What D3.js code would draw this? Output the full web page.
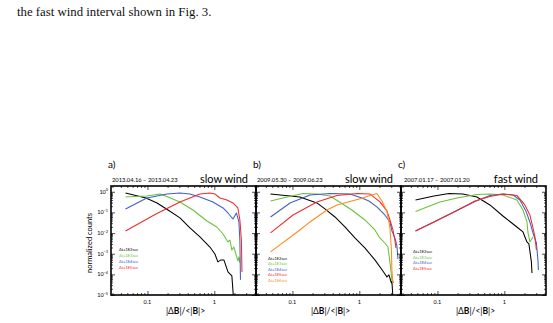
<!DOCTYPE html>
<html>
<head>
<meta charset="utf-8">
<script src="https://cdn.jsdelivr.net/npm/d3@7"></script>
<style>
  body { margin: 0; background: #fff; }
  svg { display: block; }
</style>
</head>
<body>
<svg id="chart" width="553" height="323"></svg>
<script>
// -------------------------------
// Increment distributions, three wind intervals
// -------------------------------

const panelLabels = ["a)", "b)", "c)"];
const dateRanges = ["2013.04.16 \u2013 2013.04.23", "2009.05.30 \u2013 2009.06.23", "2007.01.17 \u2013 2007.01.20"];
const windTypes = ["slow wind", "slow wind", "fast wind"];
const lagLabels = ["\u0394t=1E2sec", "\u0394t=1E3sec", "\u0394t=1E4sec", "\u0394t=1E5sec", "\u0394t=1E6sec"];
const lagColors = ["#000000", "#6cbf3c", "#3d5fc6", "#f02a2a", "#ff8a1e"];
const xTickValues = [0.1, 1];
const xTickLabels = ["0.1", "1"];
const yTickExponents = [0, -1, -2, -3, -4, -5];

// panel a: [|dB|/<|B|>, normalized counts]
const aLag1 = [[0.047,0.875],[0.095,0.50],[0.139,0.287],[0.203,0.131],[0.306,0.054],[0.432,0.0177],[0.609,0.0065],[0.859,0.0021],[1.02,0.00097],[1.13,0.00040],[1.26,0.00050],[1.39,0.00050],[1.60,0.000131],[1.83,0.000084],[1.93,0.000008]];
const aLag2 = [[0.047,0.56],[0.098,0.626],[0.154,0.782],[0.203,0.56],[0.306,0.321],[0.479,0.131],[0.775,0.0385],[1.09,0.0197],[1.35,0.0090],[1.60,0.0037],[1.71,0.0046],[1.83,0.0015],[1.96,0.0021],[2.10,0.00097],[2.25,0.00045],[2.33,0.00070],[2.41,0.00036]];
const aLag3 = [[0.047,0.147],[0.098,0.50],[0.196,0.782],[0.306,0.875],[0.432,0.782],[0.609,0.56],[0.953,0.321],[1.35,0.164],[1.60,0.094],[1.90,0.048],[2.14,0.094],[2.33,0.0345],[2.41,0.0046],[2.46,0.000054]];
const aLag4 = [[0.047,0.0126],[0.134,0.084],[0.306,0.321],[0.609,0.782],[0.859,0.875],[1.02,0.782],[1.21,0.50],[1.54,0.401],[1.90,0.287],[2.25,0.164],[2.41,0.043],[2.54,0.0046],[2.59,0.000131]];

// panel b
const bLag1 = [[0.047,0.782],[0.129,0.56],[0.232,0.287],[0.306,0.147],[0.432,0.060],[0.609,0.0197],[0.859,0.0058],[1.21,0.0019],[1.71,0.00050],[2.25,0.000146],[2.59,0.000075],[2.77,0.000094],[3.02,0.000038],[3.07,0.000045],[3.18,0.000008]];
const bLag2 = [[0.047,0.358],[0.072,0.50],[0.144,0.828],[0.232,0.782],[0.364,0.626],[0.479,0.358],[0.775,0.131],[1.21,0.043],[1.71,0.0141],[2.03,0.0058],[2.41,0.0033],[2.68,0.0021],[2.87,0.00040],[3.07,0.000054],[3.29,0.000038]];
const bLag3 = [[0.047,0.060],[0.092,0.287],[0.183,0.70],[0.364,0.828],[0.723,0.782],[1.09,0.50],[1.39,0.358],[1.83,0.184],[2.41,0.075],[2.87,0.0345],[3.07,0.0126],[3.18,0.0101],[3.40,0.0058],[3.65,0.0024],[3.78,0.00056]];
const bLag4 = [[0.047,0.0101],[0.102,0.075],[0.232,0.321],[0.463,0.662],[0.921,0.828],[1.44,0.782],[2.03,0.321],[2.59,0.118],[2.87,0.043],[3.18,0.0141],[3.40,0.0046],[3.53,0.0019]];
const bLag5 = [[0.047,0.00122],[0.129,0.0141],[0.183,0.0345],[0.328,0.131],[0.463,0.230],[0.723,0.339],[1.13,0.50],[1.44,0.662],[1.83,0.828],[2.18,0.358],[2.59,0.111],[2.87,0.0177],[3.02,0.0015],[3.07,0.000163],[3.18,0.000038]];

// panel c
const cLag1 = [[0.047,0.401],[0.0887,0.626],[0.149,0.828],[0.240,0.782],[0.389,0.56],[0.609,0.230],[0.953,0.067],[1.54,0.0197],[1.90,0.0113],[2.18,0.0037],[2.33,0.0030],[2.41,0.00136],[2.54,0.00040],[2.59,0.000117]];
const cLag2 = [[0.047,0.111],[0.109,0.321],[0.196,0.501],[0.389,0.740],[0.609,0.782],[0.953,0.70],[1.54,0.401],[1.90,0.131],[2.18,0.0345],[2.25,0.0113],[2.41,0.0037],[2.68,0.0065]];
const cLag3 = [[0.047,0.0126],[0.095,0.0385],[0.189,0.118],[0.364,0.339],[0.609,0.662],[0.953,0.782],[1.35,0.70],[1.71,0.401],[2.10,0.118],[2.41,0.0345],[2.68,0.0101],[3.02,0.0033],[3.18,0.00050],[3.23,0.000163]];
const cLag4 = [[0.047,0.0126],[0.095,0.0385],[0.189,0.118],[0.364,0.358],[0.609,0.592],[0.953,0.782],[1.54,0.662],[2.03,0.230],[2.41,0.075],[2.68,0.0177],[2.87,0.0065],[3.02,0.0015]];

const panelSeries = [
  [aLag1, aLag2, aLag3, aLag4],
  [bLag1, bLag2, bLag3, bLag4, bLag5],
  [cLag1, cLag2, cLag3, cLag4]
];

// layout
const panelLeft = [111, 256, 401];
const panelTop = 186;
const width = 145;
const height = 109;
const legendPos = [[8, 65, 6], [12, 74, 5.4], [12, 67, 5.7]];
const sans = "Lato, 'Liberation Sans', sans-serif";

const svg = d3.select("#chart");

svg.append("text")
  .attr("x", 17)
  .attr("y", 16)
  .style("font-family", "'Liberation Serif', 'Times New Roman', serif")
  .style("font-size", "12.8px")
  .style("fill", "#111")
  .text("the fast wind interval shown in Fig. 3.");

const xScale = d3.scaleLog().domain([0.0285, 4.2]).range([0, width]);
const yScale = d3.scaleLog().domain([1e-5, 1.9]).range([height, 0]);

// minor tick positions
const xMinor = [];
[0.01, 0.1, 1].forEach(p => d3.range(2, 10).forEach(m => {
  const v = m * p;
  if (v > 0.0285 && v < 4.2) xMinor.push(v);
}));
const yMinor = [];
[1e-5, 1e-4, 1e-3, 1e-2, 1e-1].forEach(p => d3.range(2, 10).forEach(m => yMinor.push(m * p)));
const yMajor = yTickExponents.map(e => Math.pow(10, e));

const line = d3.line()
  .x(d => xScale(d[0]))
  .y(d => yScale(d[1]));

panelSeries.forEach((series, i) => {
  const g = svg.append("g")
    .attr("transform", `translate(${panelLeft[i]}, ${panelTop})`);

  g.append("clipPath")
    .attr("id", `clip${i}`)
    .append("rect")
    .attr("width", width)
    .attr("height", height);

  // curves
  g.append("g")
    .attr("clip-path", `url(#clip${i})`)
    .selectAll("path")
    .data(series)
    .enter()
    .append("path")
    .attr("d", line)
    .attr("fill", "none")
    .attr("stroke", (d, k) => lagColors[k])
    .attr("stroke-width", 1.05)
    .attr("stroke-linejoin", "round");

  // ticks, all pointing inwards
  const tickAxes = [
    [d3.axisLeft(yScale).tickValues(yMajor).tickSize(-4), "translate(0,0)"],
    [d3.axisLeft(yScale).tickValues(yMinor).tickSize(-2), "translate(0,0)"],
    [d3.axisRight(yScale).tickValues(yMajor).tickSize(-4), `translate(${width},0)`],
    [d3.axisRight(yScale).tickValues(yMinor).tickSize(-2), `translate(${width},0)`],
    [d3.axisBottom(xScale).tickValues(xTickValues).tickSize(-4), `translate(0,${height})`],
    [d3.axisBottom(xScale).tickValues(xMinor).tickSize(-2), `translate(0,${height})`],
    [d3.axisTop(xScale).tickValues(xTickValues).tickSize(-4), "translate(0,0)"],
    [d3.axisTop(xScale).tickValues(xMinor).tickSize(-2), "translate(0,0)"]
  ];
  tickAxes.forEach(([ax, tr]) => {
    const a = g.append("g").attr("transform", tr).call(ax.tickFormat(""));
    a.select(".domain").remove();
    a.selectAll("line").attr("stroke", "#000").attr("stroke-width", 0.7);
  });

  // frame
  g.append("rect")
    .attr("width", width)
    .attr("height", height)
    .attr("fill", "none")
    .attr("stroke", "#000")
    .attr("stroke-width", 1.6);

  // x tick labels
  g.selectAll(".xlab")
    .data(xTickValues)
    .enter()
    .append("text")
    .attr("x", d => xScale(d))
    .attr("y", height + 9)
    .attr("text-anchor", "middle")
    .style("font-family", sans)
    .style("font-size", "5.5px")
    .text((d, k) => xTickLabels[k]);

  // x title
  const xt = g.append("text")
    .attr("x", width / 2 + 2)
    .attr("y", height + 19)
    .attr("text-anchor", "middle")
    .style("font-family", sans)
    .style("font-size", "8.5px");
  xt.append("tspan").text("|\u0394");
  xt.append("tspan").style("font-weight", "bold").text("B");
  xt.append("tspan").text("|/<|");
  xt.append("tspan").style("font-weight", "bold").text("B");
  xt.append("tspan").text("|>");

  // titles
  svg.append("text")
    .attr("x", panelLeft[i] - 3)
    .attr("y", 168)
    .style("font-family", sans)
    .style("font-size", "10px")
    .text(panelLabels[i]);

  g.append("text")
    .attr("x", i === 2 ? 3 : 1)
    .attr("y", -4)
    .style("font-family", sans)
    .style("font-size", "5.8px")
    .text(dateRanges[i]);

  g.append("text")
    .attr("x", width - 8)
    .attr("y", -3)
    .attr("text-anchor", "end")
    .style("font-family", sans)
    .style("font-size", "11px")
    .text(windTypes[i]);

  // legend
  const [lx, ly, ls] = legendPos[i];
  g.selectAll(".leg")
    .data(series)
    .enter()
    .append("text")
    .attr("x", lx)
    .attr("y", (d, k) => ly + k * ls)
    .style("font-family", sans)
    .style("font-size", "4px")
    .style("fill", (d, k) => lagColors[k])
    .text((d, k) => lagLabels[k]);

  // y labels on first panel only
  if (i === 0) {
    yTickExponents.forEach(e => {
      const t = g.append("text")
        .attr("x", -3)
        .attr("y", yScale(Math.pow(10, e)) + 2)
        .attr("text-anchor", "end")
        .style("font-family", sans)
        .style("font-size", "5.5px");
      t.append("tspan").text("10");
      t.append("tspan").attr("dy", -2.5).style("font-size", "3.8px").text(String(e).replace("-", "\u2212"));
    });

    svg.append("text")
      .attr("transform", `translate(92, 243) rotate(-90)`)
      .attr("text-anchor", "middle")
      .style("font-family", sans)
      .style("font-size", "7.5px")
      .text("normalized counts");
  }
});
</script>
</body>
</html>
